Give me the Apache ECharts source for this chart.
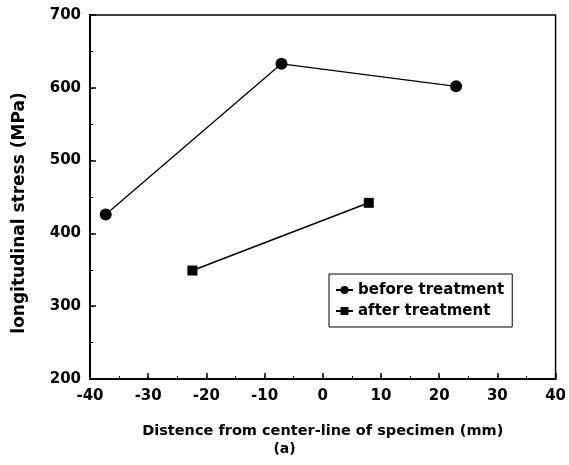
<!DOCTYPE html>
<html><head><meta charset="utf-8">
<script src="https://cdn.jsdelivr.net/npm/echarts@6/dist/echarts.min.js"></script>
<style>html,body{margin:0;padding:0;background:#fff}#c{width:569px;height:465px}</style>
</head><body><div id="c"></div>
<script>
const beforeX = [-37.3, -7.1, 22.9];
const beforeY = [426, 633, 602];
const afterX = [-22.4, 7.9];
const afterY = [349, 442];
const seriesNames = ['before treatment', 'after treatment'];
const xTitle = 'Distence from center-line of specimen (mm)';
const yTitle = 'longitudinal stress (MPa)';
const subLabel = '(a)';

const FONT = 'DejaVu Sans';
const minorAxis = (min, max, interval, pos) => ({
  type: 'value', min: min, max: max, interval: interval, position: pos,
  axisLine: {show: false, onZero: false},
  axisTick: {show: true, inside: true, length: 3, lineStyle: {color: '#000', width: 1}},
  axisLabel: {show: false}, splitLine: {show: false}
});
const chart = echarts.init(document.getElementById('c'), null, {renderer: 'canvas'});
chart.setOption({
  animation: false,
  backgroundColor: '#fff',
  grid: {left: 90, right: 10, top: 15, bottom: 86, show: true, borderColor: '#000', borderWidth: 1.5, backgroundColor: 'transparent'},
  xAxis: [{
    type: 'value', min: -40, max: 40, interval: 10, position: 'bottom',
    axisLine: {onZero: false, lineStyle: {color: '#000', width: 2}},
    axisTick: {inside: true, length: 6, lineStyle: {color: '#000', width: 1.5}},
    splitLine: {show: false},
    axisLabel: {color: '#000', fontFamily: FONT, fontWeight: 'bold', fontSize: 15, margin: 10},
    name: xTitle, nameLocation: 'middle', nameGap: 45,
    nameTextStyle: {color: '#000', fontFamily: FONT, fontWeight: 'bold', fontSize: 14.5}
  }, Object.assign(minorAxis(-40, 40, 5, 'bottom'), {offset: 0})],
  yAxis: [{
    type: 'value', min: 200, max: 700, interval: 100, position: 'left',
    axisLine: {onZero: false, lineStyle: {color: '#000', width: 2}},
    axisTick: {inside: true, length: 6, lineStyle: {color: '#000', width: 1.5}},
    splitLine: {show: false},
    axisLabel: {color: '#000', fontFamily: FONT, fontWeight: 'bold', fontSize: 15, margin: 9}
  }, Object.assign(minorAxis(200, 700, 50, 'left'), {offset: 0})],
  legend: {
    orient: 'vertical', left: 329, top: 274,
    padding: [7, 8, 7, 6], itemGap: 3, itemWidth: 17, itemHeight: 10,
    borderColor: '#000', borderWidth: 1, backgroundColor: '#fff',
    textStyle: {color: '#000', fontFamily: FONT, fontWeight: 'bold', fontSize: 15, lineHeight: 18},
    data: seriesNames
  },
  graphic: [
    {type: 'text', left: 'center', top: 442, style: {text: subLabel, fill: '#000', font: 'bold 14px "DejaVu Sans"'}},
    {type: 'text', x: 20, y: 213, rotation: Math.PI / 2, style: {text: yTitle, fill: '#000', font: 'bold 17px "DejaVu Sans"', textAlign: 'center', textVerticalAlign: 'middle'}}
  ],
  series: [
    {name: seriesNames[0], type: 'line', xAxisIndex: 0, yAxisIndex: 0, data: beforeX.map((x, i) => [x, beforeY[i]]),
     symbol: 'circle', symbolSize: 12, itemStyle: {color: '#000'}, lineStyle: {color: '#000', width: 1.3}},
    {name: seriesNames[1], type: 'line', xAxisIndex: 0, yAxisIndex: 0, data: afterX.map((x, i) => [x, afterY[i]]),
     symbol: 'rect', symbolSize: 10, itemStyle: {color: '#000'}, lineStyle: {color: '#000', width: 1.5}}
  ]
});
</script></body></html>
